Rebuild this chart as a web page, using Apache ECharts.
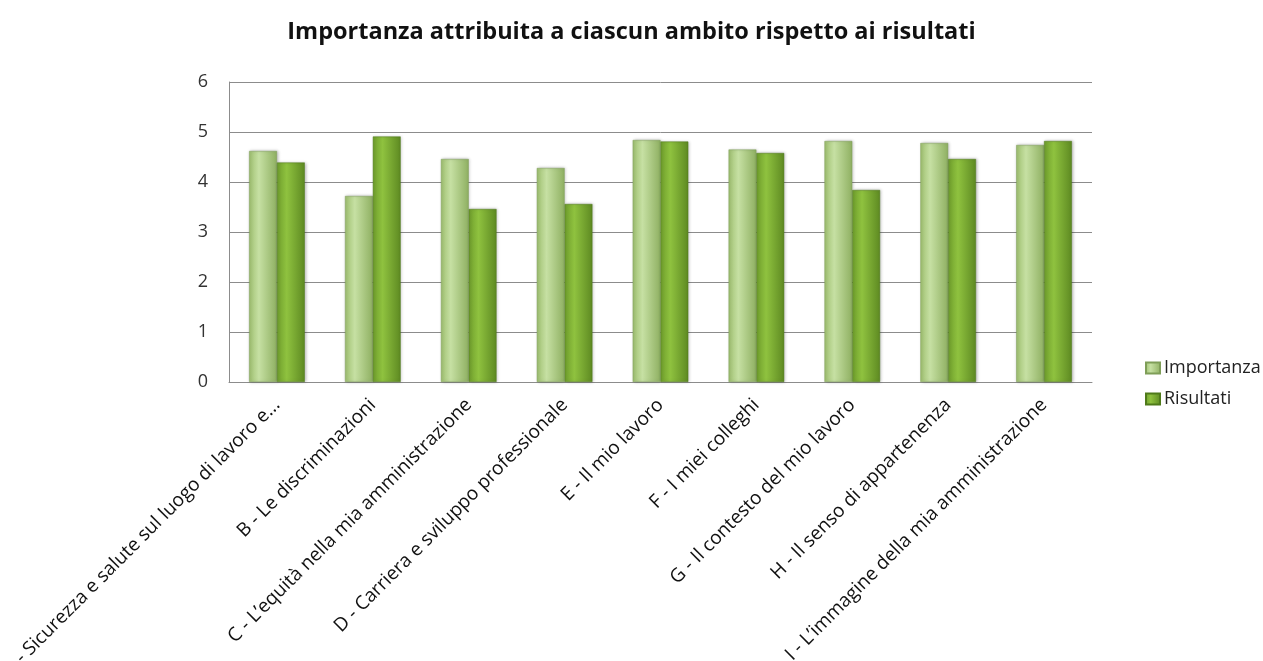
<!DOCTYPE html>
<html>
<head>
<meta charset="utf-8">
<script src="https://cdn.jsdelivr.net/npm/echarts@6/dist/echarts.min.js"></script>
<style>
html, body { margin: 0; padding: 0; background: #fff; }
#chart { width: 1263px; height: 661px; }
</style>
</head>
<body>
<div id="chart"></div>
<script>
// dati
var categorie = [
    'A - Sicurezza e salute sul luogo di lavoro e...',
    'B - Le discriminazioni',
    'C - L\u2019equità nella mia amministrazione',
    'D - Carriera e sviluppo professionale',
    'E - Il mio lavoro',
    'F - I miei colleghi',
    'G - Il contesto del mio lavoro',
    'H - Il senso di appartenenza',
    'I - L\u2019immagine della mia amministrazione'
];
var importanza = [4.62, 3.72, 4.46, 4.28, 4.84, 4.65, 4.82, 4.78, 4.74];
var risultati = [4.39, 4.91, 3.46, 3.56, 4.81, 4.58, 3.84, 4.46, 4.82];
var yTicks = [0, 1, 2, 3, 4, 5, 6];

var fontName = '"Open Sans", "Noto Sans", sans-serif';

function barGrad(c1, c2, c3) {
    return new echarts.graphic.LinearGradient(0, 0, 1, 0, [
        {offset: 0, color: c1},
        {offset: 0.35, color: c2},
        {offset: 1, color: c3}
    ]);
}

var myChart = echarts.init(document.getElementById('chart'));

var option = {
    backgroundColor: '#fff',
    animation: false,
    title: {
        text: 'Importanza attribuita a ciascun ambito rispetto ai risultati',
        left: 'center',
        top: 15,
        textStyle: {
            fontFamily: fontName,
            fontSize: 23.5,
            fontWeight: 'bold',
            color: '#111'
        }
    },
    legend: {
        orient: 'vertical',
        left: 1140,
        top: 354,
        itemGap: 13,
        itemWidth: 14,
        itemHeight: 11,
        icon: 'rect',
        textStyle: {fontFamily: fontName, fontSize: 18, color: '#222', padding: [0, 0, 0, -1]},
        data: ['Importanza', 'Risultati']
    },
    grid: {
        left: 229,
        right: 171,
        top: 82,
        bottom: 279,
        containLabel: false,
        outerBoundsMode: 'none'
    },
    xAxis: [{
        type: 'category',
        data: categorie,
        axisLine: {lineStyle: {color: '#8c8c8c'}},
        axisTick: {show: false},
        axisLabel: {
            rotate: 45,
            interval: 0,
            margin: 20,
            fontFamily: fontName,
            fontSize: 19,
            color: '#111'
        }
    }],
    yAxis: [{
        type: 'value',
        min: yTicks[0],
        max: yTicks[yTicks.length - 1],
        interval: 1,
        axisLine: {show: true, lineStyle: {color: '#8c8c8c'}},
        axisTick: {show: false},
        splitLine: {lineStyle: {color: '#8c8c8c'}},
        axisLabel: {
            margin: 21,
            fontFamily: fontName,
            fontSize: 18,
            color: '#333'
        }
    }],
    series: [
        {
            name: 'Importanza',
            type: 'bar',
            data: importanza,
            barGap: '0%',
            barCategoryGap: '42%',
            itemStyle: {
                color: barGrad('#9fc070', '#c6e0a3', '#8fb062'),
                borderColor: '#7f9e58',
                borderWidth: 0.5,
                shadowColor: 'rgba(0,0,0,0.25)',
                shadowBlur: 3,
                shadowOffsetX: 1
            }
        },
        {
            name: 'Risultati',
            type: 'bar',
            data: risultati,
            itemStyle: {
                color: barGrad('#6f9e2c', '#8fc23f', '#5e8a22'),
                borderColor: '#4f7a1a',
                borderWidth: 0.5,
                shadowColor: 'rgba(0,0,0,0.25)',
                shadowBlur: 3,
                shadowOffsetX: 1
            }
        }
    ]
};

myChart.setOption(option);
</script>
</body>
</html>
